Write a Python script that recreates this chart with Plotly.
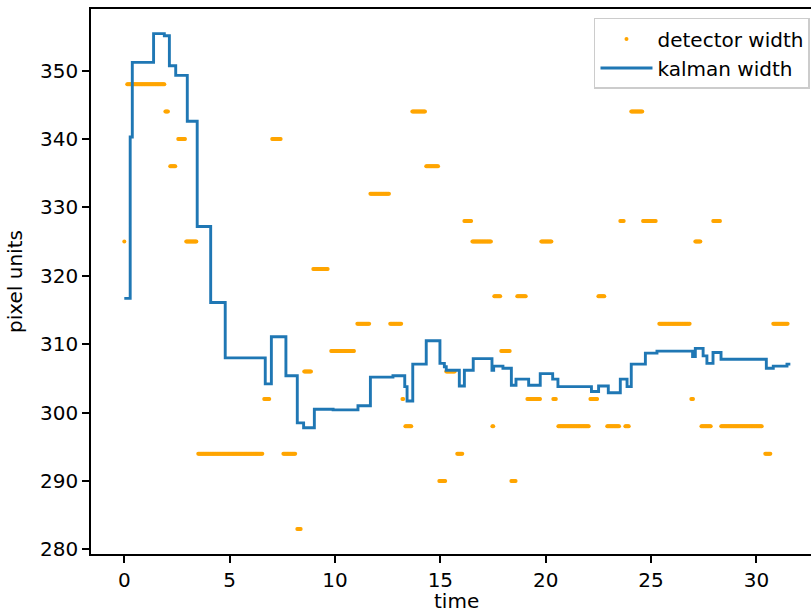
import numpy as np
import plotly.graph_objects as go

# ---- detector width: runs of constant detections (start time, end time, value)
det_start = [0.00, 0.14, 1.95, 2.18, 2.56, 2.94, 3.51, 6.64, 7.02, 7.55, 8.21, 8.54,
             8.97, 9.82, 11.06, 11.68, 12.62, 13.20, 13.34, 13.67, 14.33, 14.95, 15.28,
             15.80, 16.14, 16.52, 17.47, 17.56, 17.89, 18.37, 18.65, 19.13, 19.79, 20.36,
             20.60, 22.12, 22.50, 22.92, 23.54, 23.78, 24.06, 24.62, 25.39, 26.91, 27.10,
             27.39, 27.95, 28.33, 30.42, 30.80]
det_end = [0.02, 1.90, 2.10, 2.42, 2.90, 3.42, 6.55, 6.88, 7.45, 8.12, 8.40, 8.88,
           9.68, 10.92, 11.63, 12.58, 13.15, 13.24, 13.62, 14.29, 14.90, 15.24, 15.71,
           16.04, 16.47, 17.42, 17.51, 17.85, 18.32, 18.60, 19.08, 19.74, 20.27, 20.50,
           22.07, 22.45, 22.78, 23.49, 23.73, 23.97, 24.58, 25.25, 26.86, 27.00, 27.34,
           27.86, 28.29, 30.28, 30.66, 31.51]
det_value = [325, 348, 344, 336, 340, 325, 294, 302, 340, 294, 283, 306,
             321, 309, 313, 332, 313, 302, 298, 344, 336, 290, 306,
             294, 328, 325, 298, 317, 309, 290, 317, 302, 325, 302,
             298, 302, 317, 298, 328, 298, 344, 328, 313, 302, 325,
             298, 328, 298, 294, 313]
frame_step = 0.04

# ---- kalman width: step changes (time, value)
kal_time = [0.00, 0.28, 0.38, 1.39, 1.90, 2.14, 2.44, 2.99, 3.46, 4.10, 4.79, 6.69,
            6.98, 7.67, 8.21, 8.51, 9.02, 9.91, 11.09, 11.68, 12.75, 13.31, 13.42,
            13.69, 14.33, 14.98, 15.19, 15.28, 15.90, 16.14, 16.56, 17.45, 17.53,
            17.97, 18.37, 18.59, 19.19, 19.74, 20.33, 20.58, 22.17, 22.51, 22.97,
            23.54, 23.86, 24.06, 24.73, 25.28, 26.97, 27.10, 27.47, 27.65, 27.94,
            28.32, 30.47, 30.80, 31.45, 31.61]
kal_value = [316.7, 340.3, 351.2, 355.4, 355.1, 350.7, 349.3, 342.6, 327.2, 316.1, 308.0, 304.2,
             311.1, 305.4, 298.5, 297.8, 300.5, 300.4, 301.0, 305.2, 305.4, 303.8, 301.7,
             307.1, 310.5, 307.2, 306.7, 306.2, 303.9, 306.2, 307.9, 306.2, 306.8,
             306.5, 304.0, 304.9, 304.0, 305.7, 304.9, 303.8, 303.1, 303.9, 302.9,
             304.9, 303.8, 307.1, 308.7, 309.0, 308.2, 309.4, 308.3, 307.2, 308.8,
             307.8, 306.5, 306.8, 307.1, 307.1]

x_ticks = [0, 5, 10, 15, 20, 25, 30]
y_ticks = [280, 290, 300, 310, 320, 330, 340, 350]

# expand detection runs into per-frame samples
det_t, det_w = [], []
for s, e, v in zip(det_start, det_end, det_value):
    ts = np.arange(s, e + 1e-9, frame_step)
    if len(ts) == 0:
        ts = np.array([s])
    det_t.extend(ts.tolist())
    det_w.extend([v] * len(ts))

FONT = "DejaVu Sans"
FS = 20

fig = go.Figure()
fig.add_trace(go.Scatter(
    x=det_t, y=det_w, mode="markers", name="detector width",
    marker=dict(color="#FFA500", size=4, line=dict(width=0)),
))
fig.add_trace(go.Scatter(
    x=kal_time, y=kal_value, mode="lines", name="kalman width",
    line=dict(color="#1f77b4", width=2.9, shape="hv"),
))

fig.update_layout(
    width=811, height=614,
    margin=dict(l=91, r=0, t=9, b=60),
    paper_bgcolor="white", plot_bgcolor="white",
    font=dict(family=FONT, size=FS, color="black"),
    showlegend=True,
    legend=dict(
        x=0.9986, y=0.9835, xanchor="right", yanchor="top",
        bgcolor="rgba(255,255,255,0.8)", bordercolor="#cccccc", borderwidth=1.5,
        font=dict(family=FONT, size=FS, color="black"),
        itemwidth=52, tracegroupgap=0,
    ),
    xaxis=dict(
        range=[-1.58, 32.59], tickmode="array", tickvals=x_ticks,
        ticktext=[str(v) for v in x_ticks],
        showgrid=False, zeroline=False, showline=True, linecolor="black",
        linewidth=1.6, mirror=True, ticks="outside", ticklen=7, tickwidth=1.6,
        tickcolor="black",
    ),
    yaxis=dict(
        range=[279.34, 359.0], tickmode="array", tickvals=y_ticks,
        ticktext=[str(v) for v in y_ticks],
        showgrid=False, zeroline=False, showline=True, linecolor="black",
        linewidth=1.6, mirror=False, ticks="outside", ticklen=7, tickwidth=1.6,
        tickcolor="black",
        title=dict(text="pixel units", font=dict(family=FONT, size=FS), standoff=12),
    ),
    annotations=[dict(
        text="time", xref="paper", yref="paper", x=0.508, y=0,
        xanchor="center", yanchor="top", yshift=-33, showarrow=False,
        font=dict(family=FONT, size=FS, color="black"),
    )],
)

fig.write_html("out.html")
